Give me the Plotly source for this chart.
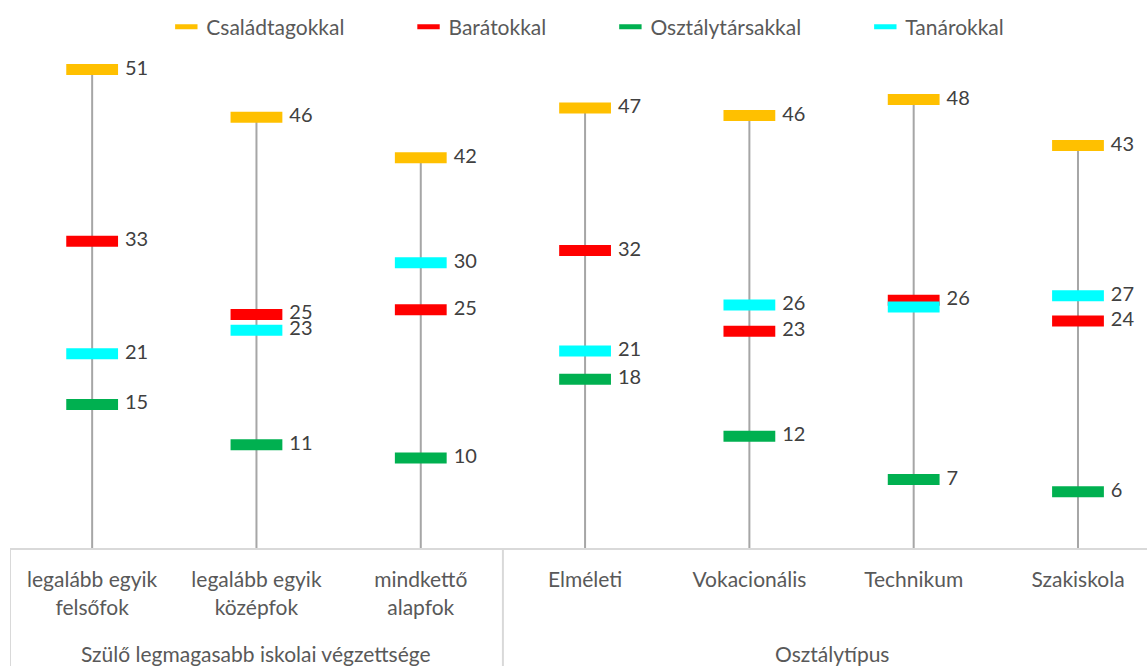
import plotly.graph_objects as go

categories = [
    "legalább egyik<br>felsőfok",
    "legalább egyik<br>középfok",
    "mindkettő<br>alapfok",
    "Elméleti",
    "Vokacionális",
    "Technikum",
    "Szakiskola",
]
groups = ["Szülő legmagasabb iskolai végzettsége", "Osztálytípus"]
group_centers = [1, 4.5]
group_split = 2.5

series_names = ["Családtagokkal", "Barátokkal", "Osztálytársakkal", "Tanárokkal"]
csaladtagokkal = [51.0, 45.9, 41.6, 46.9, 46.1, 47.8, 42.9]
baratokkal = [32.7, 24.9, 25.4, 31.7, 23.1, 26.4, 24.2]
osztalytarsakkal = [15.3, 11.0, 9.6, 18.0, 11.9, 7.3, 6.0]
tanarokkal = [20.7, 23.2, 30.4, 21.0, 25.9, 25.7, 26.9]
series_values = [csaladtagokkal, baratokkal, osztalytarsakkal, tanarokkal]
series_colors = ["#FFC000", "#FF0000", "#00B050", "#00FFFF"]

FONT = "Lato, 'Open Sans', sans-serif"
TXT = 21
xs = list(range(len(categories)))
PAD = "\u00a0" * 11

fig = go.Figure()

# vertical stems from 0 up to the top value of each category
stem_x, stem_y = [], []
for i in xs:
    top = max(s[i] for s in series_values)
    stem_x += [i, i, None]
    stem_y += [0, top, None]
fig.add_trace(go.Scatter(x=stem_x, y=stem_y, mode="lines",
                         line=dict(color="#A6A6A6", width=2),
                         showlegend=False, hoverinfo="skip"))

for name, vals, col in zip(series_names, series_values, series_colors):
    fig.add_trace(go.Scatter(
        x=xs, y=vals, mode="markers", name=name + PAD,
        marker=dict(symbol="line-ew-open", size=37, color=col,
                    line=dict(color=col, width=11)),
    ))

# data labels (a label identical to an earlier one at the same category is shown once)
shown = [set() for _ in xs]
for name, vals in zip(series_names, series_values):
    lx, ly, lt = [], [], []
    for i, v in zip(xs, vals):
        t = f"{v:.0f}"
        if t in shown[i]:
            continue
        shown[i].add(t)
        lx.append(i + 0.2)
        ly.append(v)
        lt.append(t)
    fig.add_trace(go.Scatter(
        x=lx, y=ly, mode="text", text=lt, textposition="middle right",
        textfont=dict(family=FONT, size=20, color="#404040"),
        showlegend=False, hoverinfo="skip",
    ))

bottom = -118 / 516
for xv in [-0.5, group_split]:
    fig.add_shape(type="line", xref="x", yref="paper", x0=xv, x1=xv,
                  y0=0, y1=bottom, line=dict(color="#D9D9D9", width=2))

for g, c in zip(groups, group_centers):
    fig.add_annotation(x=c, xref="x", y=bottom, yref="paper", yanchor="middle",
                       yshift=13, text=g, showarrow=False,
                       font=dict(family=FONT, size=TXT, color="#595959"))

fig.update_layout(
    width=1147, height=666,
    margin=dict(l=10, r=0, t=32, b=118, autoexpand=False),
    paper_bgcolor="white", plot_bgcolor="white",
    font=dict(family=FONT, size=TXT, color="#595959"),
    showlegend=True,
    legend=dict(orientation="h", xref="container", yref="container",
                x=0.145, xanchor="left", y=0.99, yanchor="top",
                font=dict(size=TXT, color="#595959"),
                itemwidth=30),
    xaxis=dict(range=[-0.5, 6.42], tickvals=xs, ticktext=categories,
               showgrid=False, zeroline=False, showline=True,
               linecolor="#D9D9D9", linewidth=2, automargin=False,
               ticks="outside", ticklen=12, tickcolor="rgba(0,0,0,0)",
               tickfont=dict(family=FONT, size=TXT, color="#595959")),
    yaxis=dict(range=[0, 55], visible=False, showgrid=False, zeroline=False),
)

fig.write_html("out.html", config={"displayModeBar": False},
               post_script="document.body.style.margin='0';")
